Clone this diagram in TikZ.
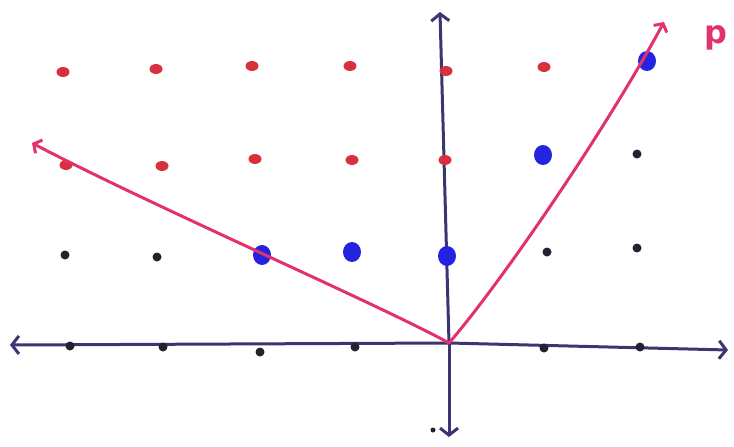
\documentclass[tikz,border=0pt]{standalone}
\usepackage{fontspec}
\setmainfont{DejaVu Sans}
\usetikzlibrary{arrows.meta,shapes.geometric}
\definecolor{axisc}{HTML}{3B3672}
\definecolor{redd}{HTML}{D8303F}
\definecolor{pinkl}{HTML}{E2326C}
\definecolor{blued}{HTML}{2424E0}
\definecolor{blackd}{HTML}{23222E}
\tikzset{
  axisline/.style={draw=axisc, line width=3pt, line cap=round, -{Straight Barb[length=7pt,width=18pt,line width=3pt]}},
  vecline/.style={draw=pinkl, line width=3pt, line cap=round, -{Straight Barb[length=6pt,width=15pt,line width=3pt]}},
  rdot/.style={ellipse, fill=redd, inner sep=0pt, minimum width=13pt, minimum height=10pt},
  bdot/.style={ellipse, fill=blued, inner sep=0pt, minimum width=18pt, minimum height=20pt},
  kdot/.style={circle, fill=blackd, inner sep=0pt, minimum size=9pt},
}
\begin{document}
\begin{tikzpicture}[x=1pt,y=-1pt]
\useasboundingbox (0,0) rectangle (734,447);
% axes
\coordinate (O) at (449,343);
\coordinate (xl) at (10,345);
\coordinate (xr) at (728,350);
\coordinate (yt) at (440,12);
\coordinate (yb) at (449,437);
\draw[axisline] (O) -- (xr);
\draw[axisline] (O) -- (xl);
\draw[axisline] (O) -- (yt);
\draw[axisline] (O) -- (yb);
% row 0 (y=345) black dots on axis
\foreach \n/\x/\y in {k1/70/346, k2/163/347, k3/260/352, k4/355/347, k5/544/348, k6/640/347}
  \node[kdot] (\n) at (\x,\y) {};
% row 1 (y~255)
\foreach \n/\x/\y in {k7/65/255, k8/157/257, k9/547/252, k10/637/248}
  \node[kdot] (\n) at (\x,\y) {};
\node[bdot] (b1) at (262,255) {};
\node[bdot] (b2) at (352,252) {};
\node[bdot] (b3) at (447,256) {};
% row 2 (y~160)
\foreach \n/\x/\y in {r1/66/165, r2/162/166, r3/255/159, r4/352/160, r5/445/160}
  \node[rdot] (\n) at (\x,\y) {};
\node[bdot] (b4) at (543,155) {};
\node[kdot] (k11) at (637,154) {};
% row 3 (y~70)
\foreach \n/\x/\y in {r6/63/72, r7/156/69, r8/252/66, r9/350/66, r10/446/71, r11/544/67}
  \node[rdot] (\n) at (\x,\y) {};
\node[bdot] (b5) at (647,61) {};
% small stray dot
\node[kdot, minimum size=5pt] (s) at (433,430) {};
% vectors
\coordinate (vl) at (32,143);
\coordinate (vr) at (664,22);
\draw[vecline] (O) .. controls (380,305) and (150,205) .. (vl);
\draw[vecline] (O) .. controls (495,290) and (600,140) .. (vr);
\node[text=pinkl, font=\bfseries\fontsize{32}{32}\selectfont] (p) at (716,38) {p};
\end{tikzpicture}
\end{document}
